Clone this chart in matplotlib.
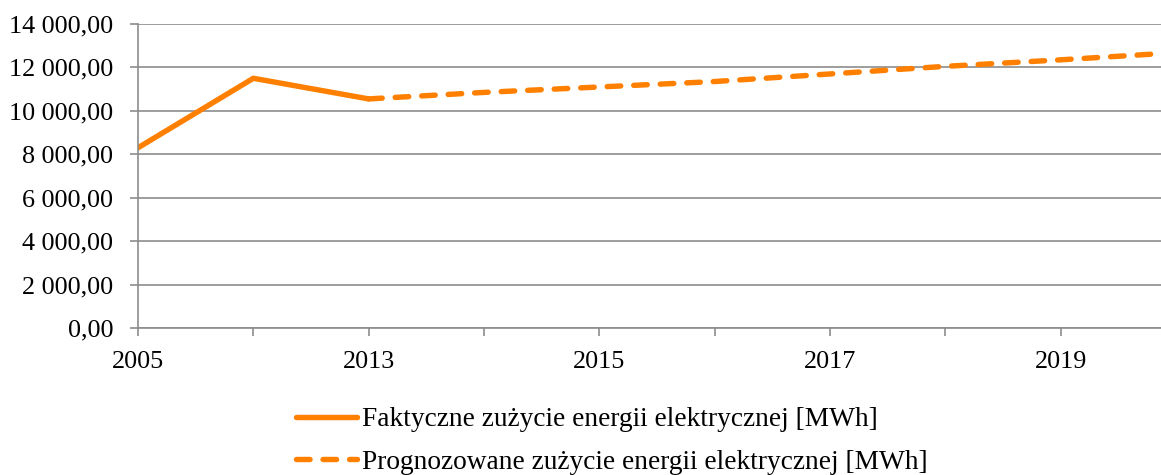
import numpy as np
import matplotlib
matplotlib.use("Agg")
import matplotlib.pyplot as plt
from matplotlib.ticker import FuncFormatter

years = ["2005", "2012", "2013", "2014", "2015", "2016", "2017", "2018", "2019", "2020"]
faktyczne = [8300, 11500, 10550]
prognoza = [10550, 10850, 11100, 11350, 11700, 12050, 12350, 12680]

orange = "#ff8000"
grey = "#8c8c8c"

plt.rcParams['font.family'] = 'serif'
plt.rcParams['font.serif'] = ['Liberation Serif', 'DejaVu Serif']
fs = 18.8
fs_leg = 19.7

fig = plt.figure(figsize=(11.61, 4.75), dpi=100)
ax = fig.add_axes([138/1161, 1 - 328/475, (1176 - 138)/1161, (328 - 24)/475])

x = np.arange(len(years))
ax.plot(x[:3], faktyczne, color=orange, lw=3.9, solid_capstyle='round',
        label="Faktyczne zużycie energii elektrycznej [MWh]")
ax.plot(x[2:], prognoza, color=orange, lw=3.9, dashes=(2.5, 2.4), dash_capstyle='round',
        label="Prognozowane zużycie energii elektrycznej [MWh]")

ax.set_xlim(0, 9)
ax.set_ylim(0, 14000)
ax.set_yticks(np.arange(0, 14001, 2000))
ax.yaxis.set_major_formatter(FuncFormatter(lambda v, p: f"{v:,.2f}".replace(",", " ").replace(".", ",")))
ax.set_xticks(x)
ax.set_xticklabels([y if i % 2 == 0 else "" for i, y in enumerate(years)])

ax.grid(axis='y', color=grey, lw=1.2)
ax.set_axisbelow(True)
for s in ['top', 'right']:
    ax.spines[s].set_visible(False)
for s in ['left', 'bottom']:
    ax.spines[s].set_color(grey)
    ax.spines[s].set_linewidth(1.2)
ax.tick_params(axis='both', colors=grey, labelcolor='black', labelsize=fs, length=5.8, width=1.2)
ax.tick_params(axis='y', pad=12)
ax.tick_params(axis='x', pad=10.5)

leg = fig.legend(loc='center left', bbox_to_anchor=(296/1161, 1 - 441/475), frameon=False,
                 prop={'family': 'serif', 'size': fs_leg}, borderpad=0, borderaxespad=0,
                 handlelength=2.23, handletextpad=0.18, labelspacing=0.64)

fig.savefig("out.png", dpi=100)
